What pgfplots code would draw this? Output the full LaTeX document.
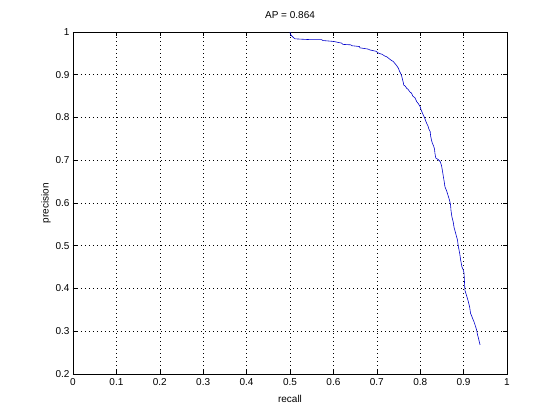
\documentclass[border=0pt]{standalone}
\usepackage{fontspec}
\setmainfont{Liberation Sans}
\usepackage{pgfplots}
\pgfplotsset{compat=1.18}
\begin{document}
\fontsize{10}{12}\selectfont
\begin{tikzpicture}[x=1pt,y=1pt]
\begin{axis}[
  at={(0,0)}, anchor=south west,
  scale only axis, width=434pt, height=342pt,
  xmin=0, xmax=1, ymin=0.2, ymax=1,
  xtick={0,0.1,...,1}, ytick={0.2,0.3,...,1},
  xticklabels={0,0.1,0.2,0.3,0.4,0.5,0.6,0.7,0.8,0.9,1},
  yticklabels={0.2,0.3,0.4,0.5,0.6,0.7,0.8,0.9,1},
  grid=major,
  major grid style={black, dash pattern=on 1pt off 3pt, line width=0.6pt},
  tick align=inside, tick pos=both,
  major tick length=4pt,
  axis line style={black, line width=0.6pt},
  tick style={black, line width=0.6pt},
  every tick label/.append style={font=\fontsize{10}{12}\selectfont},
  /pgf/number format/assume math mode=true,
  title={AP = 0.864},
  title style={at={(0.5,1)}, anchor=south, yshift=4pt, font=\fontsize{10}{12}\selectfont},
  xlabel={recall}, ylabel={precision},
  xlabel style={font=\fontsize{10}{12}\selectfont, yshift=-3pt},
  ylabel style={font=\fontsize{10}{12}\selectfont, yshift=-2pt},
  xticklabel style={yshift=-1pt},
]
\addplot[color={rgb,1:red,0;green,0;blue,0.8}, line width=0.6pt, mark=none] coordinates {
(0.500,1.000) (0.501,0.995) (0.503,0.992) (0.505,0.990) (0.509,0.986) (0.512,0.984)
(0.530,0.983) (0.550,0.982) (0.573,0.982) (0.576,0.980) (0.600,0.978) (0.619,0.974)
(0.622,0.971) (0.640,0.970) (0.642,0.968) (0.660,0.966) (0.661,0.963) (0.680,0.960)
(0.684,0.958) (0.698,0.955) (0.705,0.950) (0.712,0.948) (0.718,0.944) (0.723,0.942)
(0.728,0.938) (0.733,0.934) (0.738,0.931) (0.742,0.926) (0.746,0.921) (0.750,0.915)
(0.752,0.909) (0.755,0.903) (0.757,0.898) (0.759,0.890) (0.761,0.882) (0.762,0.876)
(0.766,0.873) (0.769,0.868) (0.772,0.866) (0.776,0.860) (0.780,0.857) (0.783,0.850)
(0.788,0.846) (0.792,0.837) (0.796,0.832) (0.800,0.825) (0.802,0.818) (0.807,0.806)
(0.810,0.800) (0.812,0.794) (0.815,0.786) (0.818,0.780) (0.820,0.773) (0.823,0.767)
(0.824,0.757) (0.826,0.747) (0.828,0.740) (0.831,0.733) (0.833,0.726) (0.834,0.716)
(0.836,0.705) (0.841,0.702) (0.846,0.697) (0.849,0.688) (0.851,0.677) (0.853,0.664)
(0.855,0.652) (0.857,0.638) (0.861,0.628) (0.865,0.615) (0.868,0.605) (0.870,0.595)
(0.871,0.582) (0.873,0.568) (0.876,0.556) (0.878,0.543) (0.882,0.528) (0.886,0.513)
(0.887,0.505) (0.888,0.498) (0.891,0.482) (0.893,0.468) (0.896,0.451) (0.899,0.444)
(0.901,0.436) (0.902,0.416) (0.903,0.396) (0.907,0.383) (0.911,0.369) (0.914,0.356)
(0.916,0.342) (0.920,0.332) (0.924,0.322) (0.927,0.313) (0.930,0.303) (0.932,0.292)
(0.934,0.285) (0.936,0.276) (0.938,0.268)
};
\end{axis}
\path[use as bounding box] (-73pt,-46pt) rectangle (487pt,374pt);
\end{tikzpicture}
\end{document}
